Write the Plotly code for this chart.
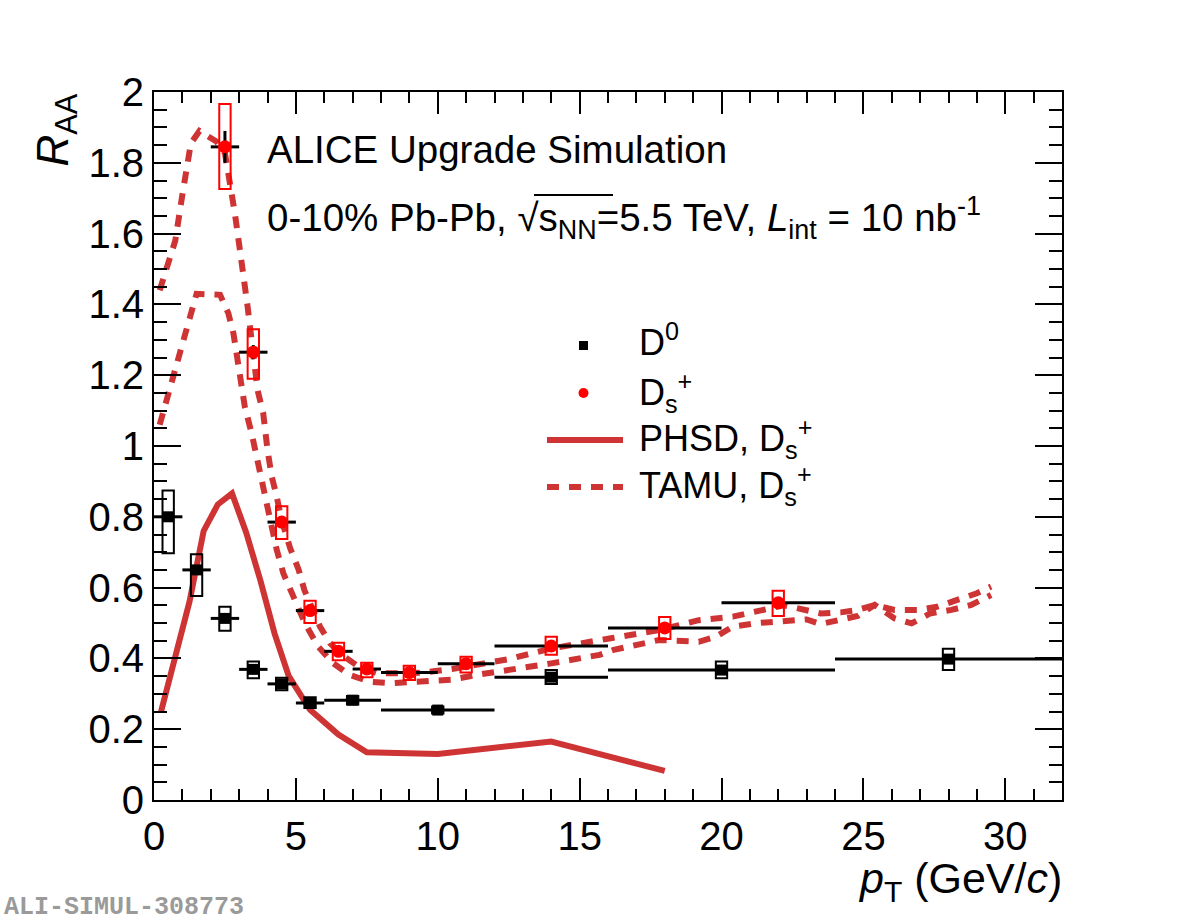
import plotly.graph_objects as go

# ---------------- data ----------------
d0_x = [0.5, 1.5, 2.5, 3.5, 4.5, 5.5, 7, 10, 14, 20, 28]
d0_xerr = [0.5, 0.5, 0.5, 0.5, 0.5, 0.5, 1, 2, 2, 4, 4]
d0_y = [0.80, 0.65, 0.513, 0.369, 0.328, 0.274, 0.282, 0.254, 0.347, 0.367, 0.398]
d0_stat = [0.01, 0.01, 0.01, 0.01, 0.01, 0.01, 0.01, 0.01, 0.01, 0.01, 0.01]
d0_syst_lo = [0.697, 0.576, 0.478, 0.344, 0.31, 0.26, 0.27, 0.244, 0.328, 0.344, 0.367]
d0_syst_hi = [0.874, 0.694, 0.546, 0.391, 0.345, 0.29, 0.294, 0.264, 0.367, 0.391, 0.427]

ds_x = [2.5, 3.5, 4.5, 5.5, 6.5, 7.5, 9, 11, 14, 18, 22]
ds_xerr = [0.5, 0.5, 0.5, 0.5, 0.5, 0.5, 1, 1, 2, 2, 2]
ds_y = [1.845, 1.265, 0.785, 0.535, 0.42, 0.37, 0.36, 0.385, 0.435, 0.486, 0.557]
ds_stat = [0.045, 0.02, 0.012, 0.01, 0.01, 0.01, 0.01, 0.01, 0.01, 0.01, 0.01]
ds_syst_lo = [1.726, 1.19, 0.737, 0.50, 0.395, 0.347, 0.339, 0.36, 0.41, 0.455, 0.52]
ds_syst_hi = [1.966, 1.33, 0.83, 0.563, 0.444, 0.388, 0.379, 0.405, 0.461, 0.517, 0.591]
box_halfwidth = 0.2

phsd_x = [0.25, 0.75, 1.25, 1.75, 2.25, 2.75, 3.25, 3.75, 4.25, 4.75, 5.5, 6.5, 7.5, 10, 14, 18]
phsd_y = [0.25, 0.40, 0.56, 0.76, 0.835, 0.866, 0.755, 0.62, 0.47, 0.35, 0.255, 0.185, 0.135, 0.13, 0.165, 0.082]

tamu_hi_x = [0.2, 0.75, 1.0, 1.3, 1.6, 1.85, 2.2, 2.5, 2.7, 2.85, 3.0, 3.15, 3.3, 3.65, 3.85,
             4.0, 4.15, 4.3, 4.5, 4.8, 5.1, 5.3, 5.85, 6.2, 6.7, 7.3, 7.85, 8.5, 9.5, 10.5,
             11.5, 12.5, 14.0, 15.6, 16.1, 17.8, 19.2, 20.4, 21.5, 22.2, 23.5, 24.2, 24.8,
             25.4, 26.1, 26.9, 27.6, 28.3, 29.0, 29.5]
tamu_hi_y = [1.44, 1.58, 1.71, 1.855, 1.89, 1.878, 1.86, 1.827, 1.742, 1.657, 1.57, 1.488,
             1.393, 1.158, 1.092, 0.989, 0.913, 0.866, 0.79, 0.711, 0.65, 0.593, 0.49, 0.443,
             0.405, 0.372, 0.358, 0.358, 0.36, 0.37, 0.385, 0.398, 0.428, 0.447, 0.457, 0.48,
             0.508, 0.518, 0.535, 0.55, 0.527, 0.53, 0.537, 0.551, 0.537, 0.537, 0.546, 0.565,
             0.584, 0.603]

tamu_lo_x = [0.2, 0.75, 1.25, 1.5, 2.33, 2.5, 2.62, 2.8, 2.97, 3.2, 3.44, 3.62, 3.85, 4.03,
             4.32, 4.56, 4.85, 5.32, 5.79, 6.32, 6.9, 7.61, 8.32, 9.5, 10.5, 11.5, 12.5, 14.0,
             15.7, 16.2, 17.8, 19.2, 19.8, 20.4, 21.3, 22.2, 23.0, 23.5, 24.2, 24.8, 25.4,
             26.1, 26.7, 27.35, 28.1, 28.8, 29.5]
tamu_lo_y = [1.06, 1.22, 1.367, 1.43, 1.427, 1.40, 1.375, 1.318, 1.224, 1.111, 1.036, 0.97,
             0.866, 0.819, 0.708, 0.64, 0.584, 0.499, 0.433, 0.386, 0.353, 0.334, 0.33, 0.335,
             0.34, 0.355, 0.367, 0.386, 0.41, 0.424, 0.452, 0.447, 0.461, 0.49, 0.50, 0.504,
             0.51, 0.497, 0.508, 0.52, 0.551, 0.513, 0.499, 0.527, 0.537, 0.551, 0.579]

x_range = [0, 32]
y_range = [0, 2]

# ---------------- style ----------------
FONT = "Liberation Sans"
MODEL_RED = "#cf3434"
DATA_RED = "#ff0000"
W, H = 1182, 921
L, R, T, B = 154, 120, 92, 121
PW, PH = W - L - R, H - T - B


def px(x):
    return (x - L) / PW


def py(y):
    return (H - B - y) / PH


fig = go.Figure()

fig.add_trace(go.Scatter(x=tamu_hi_x, y=tamu_hi_y, mode="lines",
                         line=dict(color=MODEL_RED, width=6, dash="12px,10px"),
                         showlegend=False, hoverinfo="skip"))
fig.add_trace(go.Scatter(x=tamu_lo_x, y=tamu_lo_y, mode="lines",
                         line=dict(color=MODEL_RED, width=6, dash="12px,10px"),
                         showlegend=False, hoverinfo="skip"))
fig.add_trace(go.Scatter(x=phsd_x, y=phsd_y, mode="lines",
                         line=dict(color=MODEL_RED, width=6),
                         showlegend=False, hoverinfo="skip"))

fig.add_trace(go.Scatter(
    x=d0_x, y=d0_y, mode="markers",
    marker=dict(symbol="square", size=11, color="black"),
    error_x=dict(type="data", array=d0_xerr, thickness=3, width=0, color="black"),
    error_y=dict(type="data", array=d0_stat, thickness=3, width=0, color="black"),
    showlegend=False))

fig.add_trace(go.Scatter(
    x=ds_x, y=ds_y, mode="markers",
    marker=dict(symbol="circle", size=13, color=DATA_RED),
    error_x=dict(type="data", array=ds_xerr, thickness=3, width=0, color="black"),
    error_y=dict(type="data", array=ds_stat, thickness=3, width=0, color="black"),
    showlegend=False))

# systematic boxes
for xs, lo, hi, col in [(d0_x, d0_syst_lo, d0_syst_hi, "black"),
                        (ds_x, ds_syst_lo, ds_syst_hi, DATA_RED)]:
    for xv, l, h in zip(xs, lo, hi):
        fig.add_shape(type="rect", xref="x", yref="y",
                      x0=xv - box_halfwidth, x1=xv + box_halfwidth, y0=l, y1=h,
                      line=dict(color=col, width=2), fillcolor="rgba(0,0,0,0)",
                      layer="above")

# ---------------- axes ----------------
axis_common = dict(showgrid=False, zeroline=False, showline=True, linecolor="black",
                   linewidth=2, mirror="allticks", ticks="inside", tickcolor="black",
                   tickwidth=2, tickfont=dict(family=FONT, size=40, color="black"))
fig.update_xaxes(range=x_range, dtick=5, tick0=0, ticklen=22,
                 minor=dict(dtick=1, ticklen=11, ticks="inside", tickcolor="black", tickwidth=2),
                 **axis_common)
fig.update_yaxes(range=y_range, dtick=0.2, tick0=0, ticklen=27,
                 minor=dict(dtick=0.05, ticklen=13, ticks="inside", tickcolor="black", tickwidth=2),
                 **axis_common)

# ---------------- texts ----------------
TXT = 38.5
ann = []
ann.append(dict(text="ALICE Upgrade Simulation", x=px(265), y=py(150), xanchor="left",
                yanchor="middle", font=dict(size=TXT)))
ann.append(dict(text="0-10% Pb-Pb, √s<sub>NN</sub>=5.5 TeV, <i>L</i><sub>int</sub> = 10 nb<sup>-1</sup>",
                x=px(265), y=py(218), xanchor="left", yanchor="middle", font=dict(size=TXT)))
ann.append(dict(text="<i>R</i><sub>AA</sub>", x=px(55), y=py(92), xanchor="center",
                yanchor="top", textangle=-90, font=dict(size=44)))
ann.append(dict(text="<i>p</i><sub>T</sub> (GeV/<i>c</i>)", x=px(1064), y=py(881),
                xanchor="right", yanchor="middle", font=dict(size=43)))
ann.append(dict(text="<b>ALI-SIMUL-308773</b>", x=px(2), y=py(907), xanchor="left",
                yanchor="middle", font=dict(size=25, family="Liberation Mono", color="#9a9a9a")))

# legend (manual)
leg_text_x = px(637)
ann.append(dict(text="D<sup>0</sup>", x=leg_text_x, y=py(340), xanchor="left", yanchor="middle",
                font=dict(size=36)))
ann.append(dict(text="D<sub>s</sub><sup>+</sup>", x=leg_text_x, y=py(392), xanchor="left",
                yanchor="middle", font=dict(size=36)))
ann.append(dict(text="PHSD, D<sub>s</sub><sup>+</sup>", x=leg_text_x, y=py(438), xanchor="left",
                yanchor="middle", font=dict(size=36)))
ann.append(dict(text="TAMU, D<sub>s</sub><sup>+</sup>", x=leg_text_x, y=py(485), xanchor="left",
                yanchor="middle", font=dict(size=36)))
for a in ann:
    a.setdefault("showarrow", False)
    a["xref"] = "paper"
    a["yref"] = "paper"
    f = a.setdefault("font", {})
    f.setdefault("family", FONT)
    f.setdefault("color", "black")

# legend symbols
fig.add_shape(type="rect", xref="paper", yref="paper", x0=px(579), x1=px(588),
              y0=py(350), y1=py(341), fillcolor="black", line=dict(width=0))
fig.add_shape(type="circle", xref="paper", yref="paper", x0=px(578.5), x1=px(588.5),
              y0=py(398), y1=py(388), fillcolor=DATA_RED, line=dict(width=0))
fig.add_shape(type="line", xref="paper", yref="paper", x0=px(547), x1=px(623),
              y0=py(440), y1=py(440), line=dict(color=MODEL_RED, width=6))
fig.add_shape(type="line", xref="paper", yref="paper", x0=px(547), x1=px(623),
              y0=py(487), y1=py(487), line=dict(color=MODEL_RED, width=6, dash="12px,10px"))
# overline of square root
fig.add_shape(type="line", xref="paper", yref="paper", x0=px(534), x1=px(613),
              y0=py(195), y1=py(195), line=dict(color="black", width=2))

fig.update_layout(
    width=W, height=H, autosize=False,
    margin=dict(l=L, r=R, t=T, b=B),
    paper_bgcolor="white", plot_bgcolor="white",
    annotations=ann, showlegend=False,
    font=dict(family=FONT, color="black"),
)

fig.write_html("out.html")
